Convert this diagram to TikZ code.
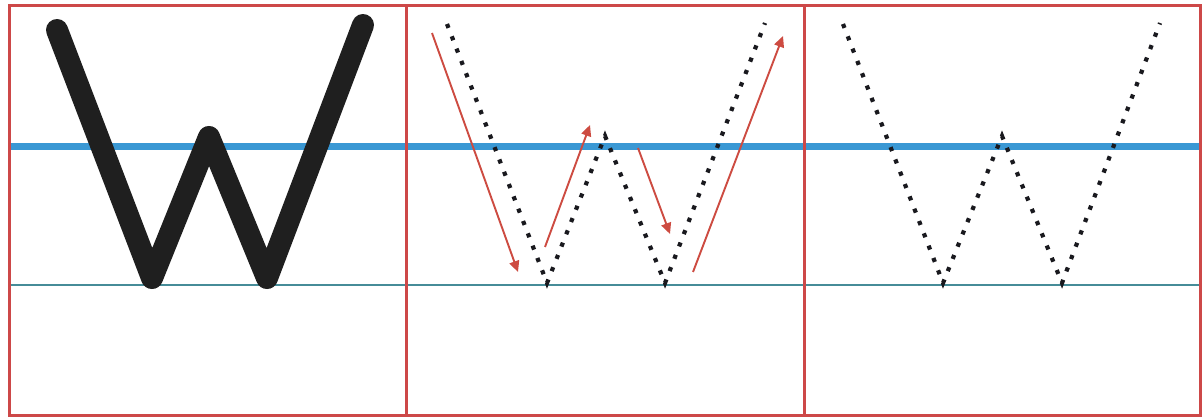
\documentclass[tikz,border=0pt]{standalone}
\usetikzlibrary{arrows.meta}
\definecolor{frame}{RGB}{205,72,72}
\definecolor{thickblue}{RGB}{58,152,212}
\definecolor{thinblue}{RGB}{70,140,152}
\definecolor{arrowred}{RGB}{205,75,65}
\definecolor{dotc}{RGB}{25,25,30}
\tikzset{
  panelbox/.style={draw=frame,line width=3pt},
  solidw/.style={draw=black!88,line width=22pt,line cap=round,line join=round},
  dotw/.style={draw=dotc,line width=4.2pt,dash pattern=on 4.2pt off 9pt},
  guidearrow/.style={draw=arrowred,line width=1.9pt,-{Triangle[length=11pt,width=10pt]}}
}
\begin{document}
\begin{tikzpicture}[x=1pt,y=-1pt]
\useasboundingbox (0,0) rectangle (1202,417);
\fill[white] (0,0) rectangle (1202,417);
% guide lines
\draw[thickblue,line width=6.5pt] (8,146.5) -- (1202,146.5);
\draw[thinblue,line width=2pt] (8,285) -- (1202,285);
% panel 1 solid W
\coordinate (a1) at (57,30);
\coordinate (a2) at (152,278);
\coordinate (a3) at (209,137);
\coordinate (a4) at (267,278);
\coordinate (a5) at (363,25);
\draw[solidw] (a1) -- (a2) -- (a3) -- (a4) -- (a5);
% panel 2 dotted W
\coordinate (b1) at (447,24);
\coordinate (b2) at (547,283);
\coordinate (b3) at (605,136);
\coordinate (b4) at (665,283);
\coordinate (b5) at (765,23);
\draw[dotw] (b1) -- (b2) -- (b3) -- (b4) -- (b5);
% panel 2 arrows
\coordinate (r1s) at (432,33);
\coordinate (r1e) at (518,272);
\coordinate (r2s) at (545,247);
\coordinate (r2e) at (590,125);
\coordinate (r3s) at (638,148);
\coordinate (r3e) at (670,234);
\coordinate (r4s) at (693,272);
\coordinate (r4e) at (783,36);
\draw[guidearrow] (r1s) -- (r1e);
\draw[guidearrow] (r2s) -- (r2e);
\draw[guidearrow] (r3s) -- (r3e);
\draw[guidearrow] (r4s) -- (r4e);
% panel 3 dotted W
\coordinate (c1) at (843,24);
\coordinate (c2) at (943,283);
\coordinate (c3) at (1002,136);
\coordinate (c4) at (1062,283);
\coordinate (c5) at (1160,23);
\draw[dotw] (c1) -- (c2) -- (c3) -- (c4) -- (c5);
% frames
\draw[panelbox] (9.5,6) rectangle (406.5,415);
\draw[panelbox] (406.5,6) rectangle (804.5,415);
\draw[panelbox] (804.5,6) rectangle (1200.5,415);
\end{tikzpicture}
\end{document}
